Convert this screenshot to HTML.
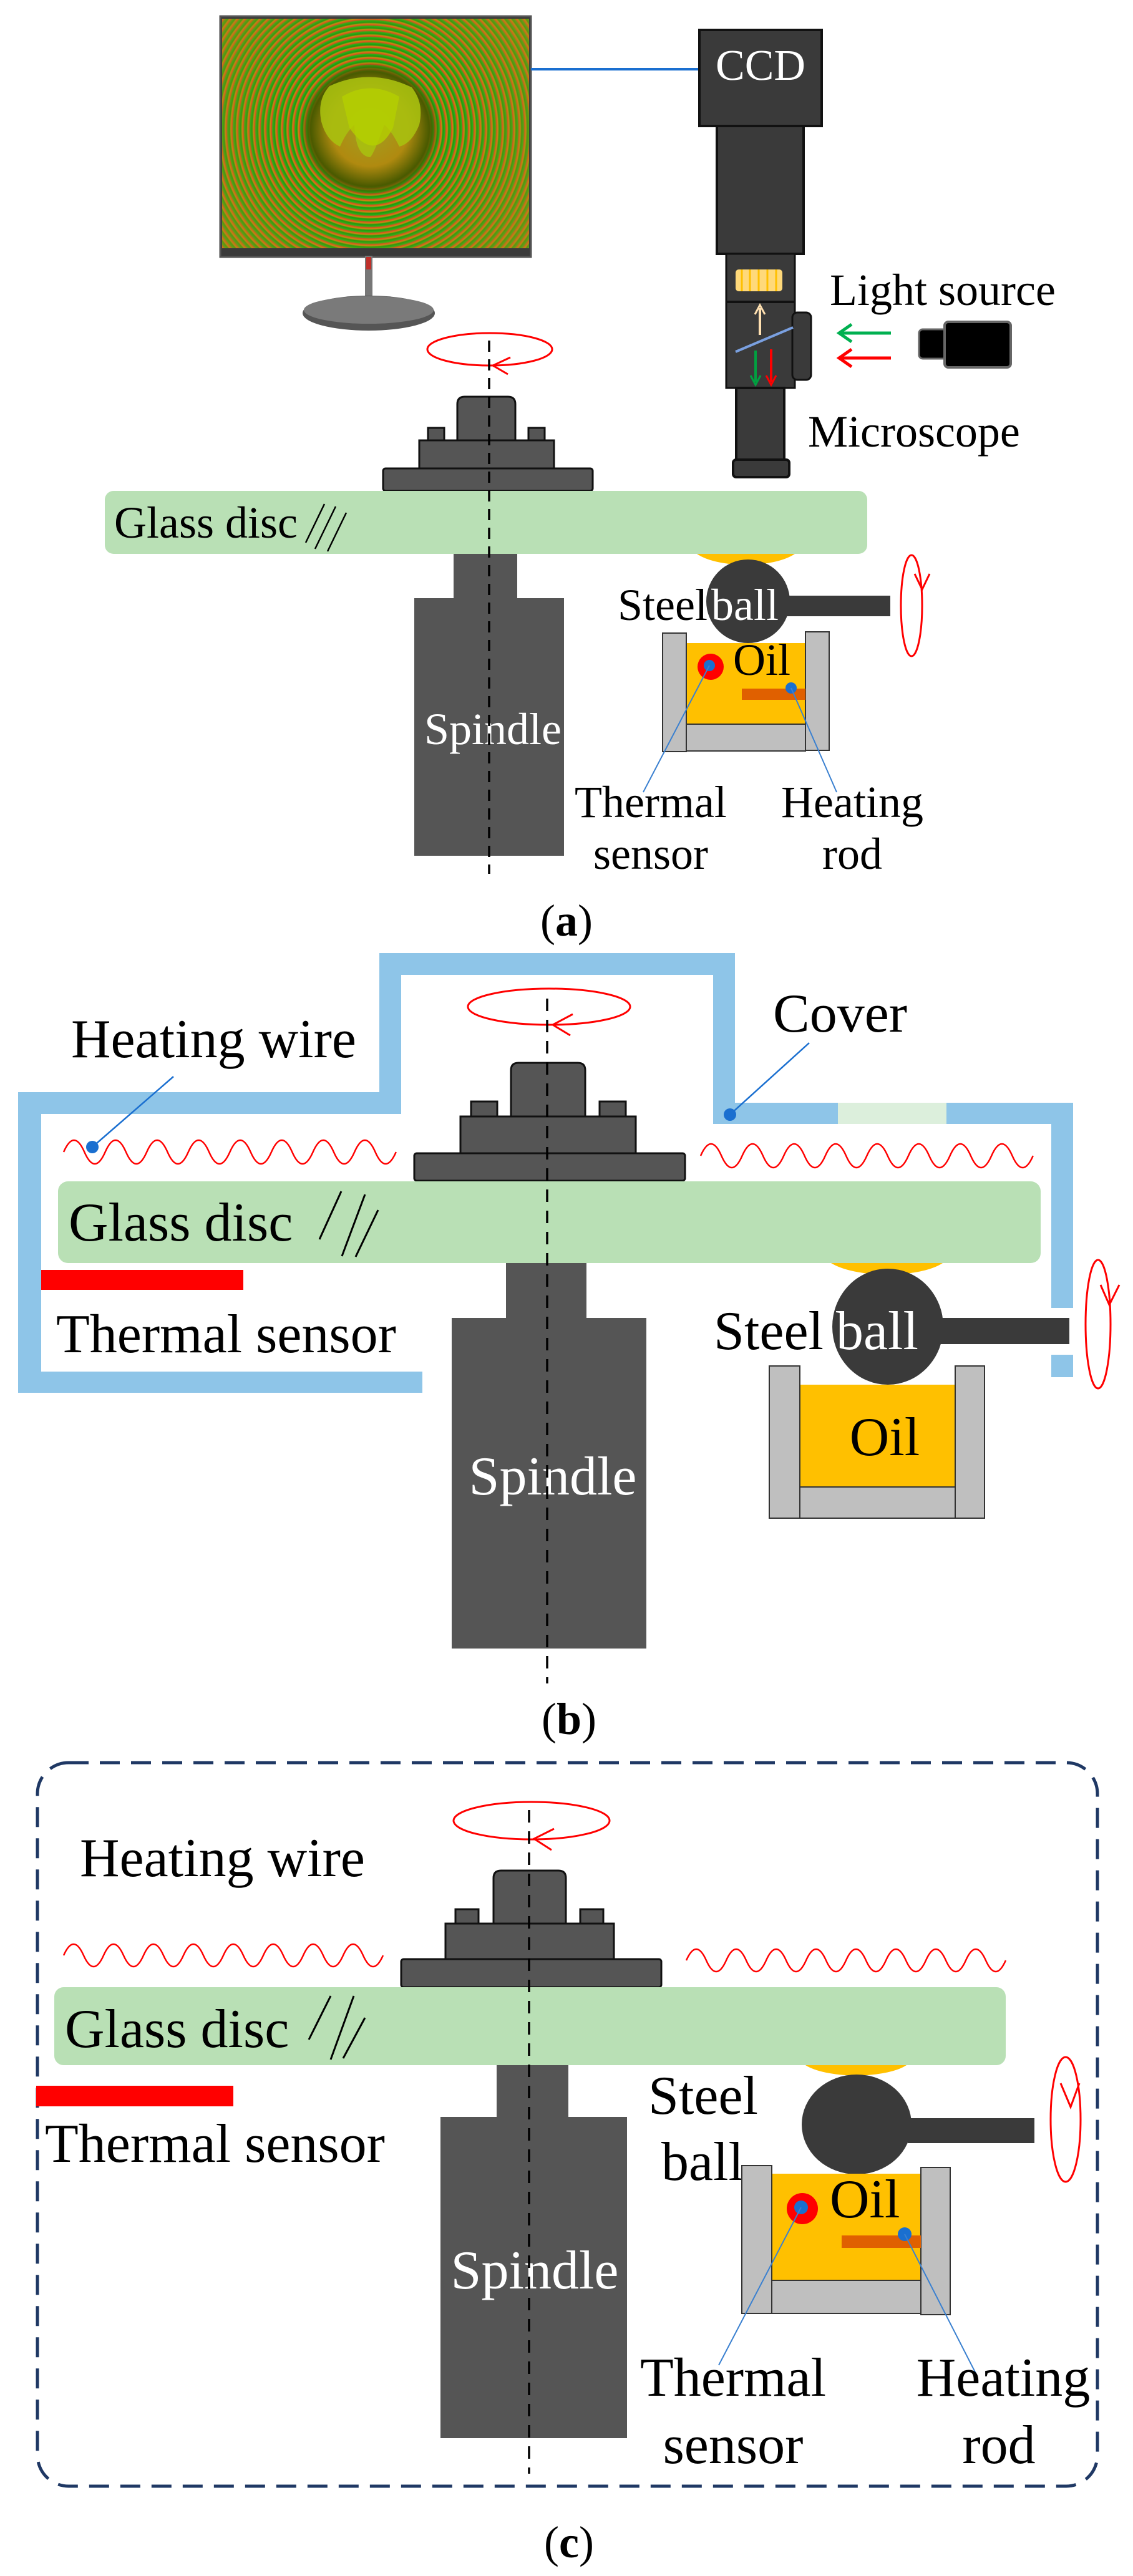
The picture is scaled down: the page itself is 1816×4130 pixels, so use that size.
<!DOCTYPE html>
<html><head><meta charset="utf-8"><style>
html,body{margin:0;padding:0;background:#fff;}
#wrap{position:relative;width:1816px;height:4130px;overflow:hidden;}
#scr{position:absolute;left:356px;top:30px;width:492px;height:368px;
background:
radial-gradient(ellipse 112px 108px at 237px 177px,#a0a020 0%,#b08a10 55%,#4a5a00 85%,rgba(0,0,0,0) 100%),
repeating-radial-gradient(circle at 237px 177px,#1a9a10 0px,#2ab015 3px,#e04a20 5px,#c88a10 7px,#1a9a10 9px),
#9a9010;}
#scr:after{content:"";position:absolute;left:0;top:0;right:0;bottom:0;background:radial-gradient(circle at 237px 177px,rgba(0,0,0,0) 45%,rgba(170,140,20,0.45) 90%);}
svg{position:absolute;left:0;top:0;}
text{font-family:"Liberation Serif",serif;}
</style></head><body><div id="wrap">
<svg width="1816" height="4130" viewBox="0 0 1816 4130">
<!-- ========== PANEL A ========== -->
<rect x="353" y="26" width="498" height="386" fill="#3a3a3a" stroke="#555" stroke-width="3"/>
<rect x="585" y="410" width="12" height="80" fill="#777"/>
<rect x="587" y="412" width="8" height="20" fill="#c0302a"/>
<ellipse cx="591" cy="502" rx="106" ry="28" fill="#555"/>
<ellipse cx="591" cy="497" rx="104" ry="22" fill="#7a7a7a"/>
<line x1="851" y1="111" x2="1121" y2="111" stroke="#1a6fd0" stroke-width="4"/>
<rect x="1121" y="48" width="196" height="154" fill="#3a3a3a" stroke="#111" stroke-width="4"/>
<text x="1219" y="128" font-size="70" fill="#fff" text-anchor="middle">CCD</text>
<rect x="1149" y="202" width="139" height="205" fill="#3a3a3a" stroke="#111" stroke-width="4"/>
<rect x="1164" y="407" width="110" height="215" fill="#3a3a3a" stroke="#111" stroke-width="3"/>
<line x1="1164" y1="484" x2="1274" y2="484" stroke="#111" stroke-width="4"/>
<rect x="1179" y="432" width="75" height="35" rx="5" fill="#ffd97a"/>
<g stroke="#ffc000" stroke-width="3"><line x1="1189" y1="432" x2="1189" y2="467"/><line x1="1202" y1="432" x2="1202" y2="467"/><line x1="1216" y1="432" x2="1216" y2="467"/><line x1="1230" y1="432" x2="1230" y2="467"/><line x1="1244" y1="432" x2="1244" y2="467"/></g>
<rect x="1270" y="501" width="30" height="108" rx="8" fill="#3a3a3a" stroke="#111" stroke-width="3"/>
<line x1="1179" y1="564" x2="1271" y2="525" stroke="#7aa0e0" stroke-width="4"/>
<line x1="1218" y1="537" x2="1218" y2="494" stroke="#ffe0b0" stroke-width="4"/><path d="M1210,504 L1218,489 L1226,504" fill="none" stroke="#ffe0b0" stroke-width="3"/>
<line x1="1211" y1="562" x2="1211" y2="612" stroke="#00a040" stroke-width="4"/><path d="M1203,602 L1211,617 L1219,602" fill="none" stroke="#00a040" stroke-width="3"/>
<line x1="1236" y1="560" x2="1236" y2="612" stroke="#f00" stroke-width="4"/><path d="M1228,602 L1236,617 L1244,602" fill="none" stroke="#f00" stroke-width="3"/>
<rect x="1180" y="622" width="77" height="115" fill="#3a3a3a" stroke="#111" stroke-width="4"/>
<rect x="1175" y="737" width="90" height="28" rx="5" fill="#3a3a3a" stroke="#111" stroke-width="4"/>
<line x1="1348" y1="534" x2="1428" y2="534" stroke="#00b050" stroke-width="5"/><path d="M1365,520 L1345,534 L1365,548" fill="none" stroke="#00b050" stroke-width="5"/>
<line x1="1348" y1="574" x2="1428" y2="574" stroke="#f00" stroke-width="5"/><path d="M1365,560 L1345,574 L1365,588" fill="none" stroke="#f00" stroke-width="5"/>
<rect x="1473" y="528" width="44" height="47" rx="6" fill="#000" stroke="#666" stroke-width="3"/>
<rect x="1514" y="516" width="106" height="73" rx="6" fill="#000" stroke="#666" stroke-width="4"/>
<text x="1330" y="489" font-size="72">Light source</text>
<text x="1295" y="716" font-size="72">Microscope</text>
<ellipse cx="785" cy="560" rx="100" ry="26" fill="none" stroke="#f00" stroke-width="3"/>
<path d="M818,573 L790,586 L814,600" fill="none" stroke="#f00" stroke-width="3"/>
<path d="M733,712 L733,648 Q733,636 745,636 L814,636 Q826,636 826,648 L826,712Z" fill="#555" stroke="#111" stroke-width="3"/>
<rect x="686" y="686" width="26" height="22" fill="#555" stroke="#111" stroke-width="3"/>
<rect x="847" y="686" width="26" height="22" fill="#555" stroke="#111" stroke-width="3"/>
<rect x="672" y="706" width="216" height="46" fill="#555" stroke="#111" stroke-width="3"/>
<rect x="614" y="751" width="336" height="36" rx="4" fill="#555" stroke="#111" stroke-width="3"/>
<rect x="168" y="787" width="1222" height="101" rx="14" fill="#b9e0b5"/>
<text x="183" y="862" font-size="72">Glass disc</text>
<g stroke="#000" stroke-width="2.5"><line x1="520" y1="808" x2="490" y2="870"/><line x1="538" y1="812" x2="505" y2="880"/><line x1="555" y1="822" x2="525" y2="884"/></g>
<rect x="727" y="888" width="102" height="71" fill="#555"/>
<rect x="664" y="959" width="240" height="413" fill="#555"/>
<text x="790" y="1193" font-size="72" fill="#fff" text-anchor="middle">Spindle</text>
<line x1="784" y1="546" x2="784" y2="1401" stroke="#000" stroke-width="3.5" stroke-dasharray="18,12"/>
<path d="M1117,888 L1274,888 Q1250,904 1196,906 Q1140,904 1117,888Z" fill="#ffc000"/>
<rect x="1260" y="955" width="167" height="33" fill="#3a3a3a"/>
<ellipse cx="1199" cy="964" rx="67" ry="67" fill="#3a3a3a"/>
<text x="990" y="994" font-size="72">Steel</text>
<text x="1140" y="994" font-size="72" fill="#fff">ball</text>
<ellipse cx="1461" cy="971" rx="17" ry="81" fill="none" stroke="#f00" stroke-width="3"/>
<path d="M1466,920 L1478,945 L1490,920" fill="none" stroke="#f00" stroke-width="3"/>
<rect x="1100" y="1031" width="191" height="130" fill="#ffc000"/>
<rect x="1100" y="1161" width="191" height="43" fill="#bfbfbf" stroke="#333" stroke-width="2"/>
<rect x="1062" y="1015" width="38" height="190" fill="#bfbfbf" stroke="#333" stroke-width="2"/>
<rect x="1291" y="1013" width="38" height="190" fill="#bfbfbf" stroke="#333" stroke-width="2"/>
<text x="1175" y="1082" font-size="72">Oil</text>
<circle cx="1139" cy="1069" r="21" fill="#f00"/><circle cx="1137" cy="1067" r="9" fill="#1a6fd0"/>
<rect x="1189" y="1104" width="102" height="18" fill="#e06000"/>
<circle cx="1268" cy="1103" r="9" fill="#1a6fd0"/>
<line x1="1137" y1="1067" x2="1031" y2="1270" stroke="#3a80d0" stroke-width="2"/>
<line x1="1268" y1="1103" x2="1341" y2="1270" stroke="#3a80d0" stroke-width="2"/>
<text x="1043" y="1310" font-size="72" text-anchor="middle">Thermal</text>
<text x="1043" y="1393" font-size="72" text-anchor="middle">sensor</text>
<text x="1366" y="1310" font-size="72" text-anchor="middle">Heating</text>
<text x="1366" y="1393" font-size="72" text-anchor="middle">rod</text>
<text x="908" y="1500" font-size="72" text-anchor="middle">(<tspan font-weight="bold">a</tspan>)</text>

<!-- ========== PANEL B ========== -->
<g fill="#8ec5e8">
<rect x="29" y="2199" width="648" height="34"/>
<rect x="29" y="1751" width="37" height="482"/>
<rect x="29" y="1751" width="614" height="35"/>
<rect x="608" y="1528" width="35" height="258"/>
<rect x="608" y="1528" width="570" height="35"/>
<rect x="1143" y="1528" width="35" height="274"/>
<rect x="1143" y="1768" width="577" height="34"/>
<rect x="1685" y="1768" width="35" height="329"/>
<rect x="1685" y="2172" width="35" height="36"/>
</g>
<rect x="1343" y="1768" width="174" height="34" fill="#dcefdc"/>
<text x="1239" y="1654" font-size="88">Cover</text>
<line x1="1297" y1="1672" x2="1170" y2="1787" stroke="#1a6fd0" stroke-width="2.5"/><circle cx="1170" cy="1787" r="10" fill="#1a6fd0"/>
<text x="114" y="1695" font-size="88">Heating wire</text>
<line x1="278" y1="1726" x2="148" y2="1839" stroke="#1a6fd0" stroke-width="2.5"/><circle cx="148" cy="1839" r="10" fill="#1a6fd0"/>
<path d="M102,1847 q16.7,-38 33.3,0 t33.3,0 t33.3,0 t33.3,0 t33.3,0 t33.3,0 t33.3,0 t33.3,0 t33.3,0 t33.3,0 t33.3,0 t33.3,0 t33.3,0 t33.3,0 t33.3,0 t33.3,0" fill="none" stroke="#f00" stroke-width="2.5"/>
<path d="M1123,1853 q16.7,-38 33.3,0 t33.3,0 t33.3,0 t33.3,0 t33.3,0 t33.3,0 t33.3,0 t33.3,0 t33.3,0 t33.3,0 t33.3,0 t33.3,0 t33.3,0 t33.3,0 t33.3,0 t33.3,0" fill="none" stroke="#f00" stroke-width="2.5"/>
<ellipse cx="880" cy="1614" rx="130" ry="29" fill="none" stroke="#f00" stroke-width="3"/>
<path d="M918,1626 L886,1643 L914,1660" fill="none" stroke="#f00" stroke-width="3"/>
<path d="M819,1794 L819,1716 Q819,1704 831,1704 L926,1704 Q938,1704 938,1716 L938,1794Z" fill="#555" stroke="#111" stroke-width="3"/>
<rect x="755" y="1766" width="42" height="26" fill="#555" stroke="#111" stroke-width="3"/>
<rect x="961" y="1766" width="42" height="26" fill="#555" stroke="#111" stroke-width="3"/>
<rect x="738" y="1790" width="281" height="59" fill="#555" stroke="#111" stroke-width="3"/>
<rect x="664" y="1849" width="434" height="44" rx="4" fill="#555" stroke="#111" stroke-width="3"/>
<rect x="93" y="1894" width="1575" height="131" rx="16" fill="#b9e0b5"/>
<text x="110" y="1989" font-size="88">Glass disc</text>
<g stroke="#000" stroke-width="3"><line x1="547" y1="1910" x2="512" y2="1987"/><line x1="585" y1="1915" x2="548" y2="2014"/><line x1="606" y1="1940" x2="570" y2="2015"/></g>
<rect x="66" y="2036" width="324" height="32" fill="#f00"/>
<text x="90" y="2168" font-size="88">Thermal sensor</text>
<rect x="811" y="2025" width="129" height="88" fill="#555"/>
<rect x="724" y="2113" width="312" height="530" fill="#555"/>
<text x="886" y="2396" font-size="88" fill="#fff" text-anchor="middle">Spindle</text>
<line x1="877" y1="1601" x2="877" y2="2699" stroke="#000" stroke-width="3.5" stroke-dasharray="20,14"/>
<path d="M1332,2025 L1511,2025 Q1485,2042 1422,2044 Q1360,2042 1332,2025Z" fill="#ffc000"/>
<rect x="1500" y="2113" width="214" height="42" fill="#3a3a3a"/>
<ellipse cx="1423" cy="2127" rx="89" ry="93" fill="#3a3a3a"/>
<text x="1144" y="2163" font-size="88">Steel</text>
<text x="1340" y="2163" font-size="88" fill="#fff">ball</text>
<ellipse cx="1760" cy="2123" rx="20" ry="103" fill="none" stroke="#f00" stroke-width="3"/>
<path d="M1764,2060 L1778,2092 L1794,2060" fill="none" stroke="#f00" stroke-width="3"/>
<rect x="1282" y="2220" width="249" height="164" fill="#ffc000"/>
<rect x="1282" y="2384" width="249" height="50" fill="#bfbfbf" stroke="#333" stroke-width="2"/>
<rect x="1233" y="2190" width="49" height="244" fill="#bfbfbf" stroke="#333" stroke-width="2"/>
<rect x="1531" y="2190" width="47" height="244" fill="#bfbfbf" stroke="#333" stroke-width="2"/>
<text x="1418" y="2333" font-size="88" text-anchor="middle">Oil</text>
<text x="912" y="2780" font-size="72" text-anchor="middle">(<tspan font-weight="bold">b</tspan>)</text>

<!-- ========== PANEL C ========== -->
<rect x="60" y="2826" width="1699" height="1160" rx="50" fill="none" stroke="#1f3864" stroke-width="5" stroke-dasharray="32,18"/>
<ellipse cx="852" cy="2919" rx="125" ry="30" fill="none" stroke="#f00" stroke-width="3"/>
<path d="M888,2932 L856,2948 L884,2966" fill="none" stroke="#f00" stroke-width="3"/>
<text x="128" y="3008" font-size="88">Heating wire</text>
<path d="M791,3087 L791,3011 Q791,2999 803,2999 L895,2999 Q907,2999 907,3011 L907,3087Z" fill="#555" stroke="#111" stroke-width="3"/>
<rect x="730" y="3061" width="37" height="25" fill="#555" stroke="#111" stroke-width="3"/>
<rect x="930" y="3061" width="37" height="25" fill="#555" stroke="#111" stroke-width="3"/>
<rect x="714" y="3084" width="270" height="57" fill="#555" stroke="#111" stroke-width="3"/>
<rect x="643" y="3141" width="417" height="45" rx="4" fill="#555" stroke="#111" stroke-width="3"/>
<path d="M102,3135 q16,-36 32,0 t32,0 t32,0 t32,0 t32,0 t32,0 t32,0 t32,0 t32,0 t32,0 t32,0 t32,0 t32,0 t32,0 t32,0 t32,0" fill="none" stroke="#f00" stroke-width="2.5"/>
<path d="M1100,3143 q16,-36 32,0 t32,0 t32,0 t32,0 t32,0 t32,0 t32,0 t32,0 t32,0 t32,0 t32,0 t32,0 t32,0 t32,0 t32,0 t32,0" fill="none" stroke="#f00" stroke-width="2.5"/>
<rect x="87" y="3186" width="1525" height="125" rx="15" fill="#b9e0b5"/>
<text x="104" y="3282" font-size="88">Glass disc</text>
<g stroke="#000" stroke-width="3"><line x1="530" y1="3200" x2="495" y2="3270"/><line x1="567" y1="3200" x2="530" y2="3302"/><line x1="585" y1="3235" x2="550" y2="3300"/></g>
<rect x="58" y="3344" width="316" height="33" fill="#f00"/>
<text x="72" y="3466" font-size="88">Thermal sensor</text>
<rect x="796" y="3311" width="115" height="83" fill="#555"/>
<rect x="706" y="3394" width="299" height="515" fill="#555"/>
<text x="857" y="3669" font-size="88" fill="#fff" text-anchor="middle">Spindle</text>
<line x1="848" y1="2902" x2="848" y2="3966" stroke="#000" stroke-width="3.5" stroke-dasharray="20,14"/>
<text x="1039" y="3389" font-size="88">Steel</text>
<text x="1060" y="3495" font-size="88">ball</text>
<path d="M1291,3311 L1453,3311 Q1430,3326 1372,3328 Q1315,3326 1291,3311Z" fill="#ffc000"/>
<rect x="1455" y="3396" width="203" height="40" fill="#3a3a3a"/>
<ellipse cx="1373" cy="3406" rx="88" ry="80" fill="#3a3a3a"/>
<ellipse cx="1708" cy="3398" rx="24" ry="100" fill="none" stroke="#f00" stroke-width="3"/>
<path d="M1700,3340 L1716,3378 L1730,3340" fill="none" stroke="#f00" stroke-width="3"/>
<rect x="1237" y="3485" width="239" height="171" fill="#ffc000"/>
<rect x="1237" y="3656" width="239" height="53" fill="#bfbfbf" stroke="#333" stroke-width="2"/>
<rect x="1189" y="3472" width="48" height="237" fill="#bfbfbf" stroke="#333" stroke-width="2"/>
<rect x="1476" y="3475" width="47" height="236" fill="#bfbfbf" stroke="#333" stroke-width="2"/>
<text x="1330" y="3555" font-size="88">Oil</text>
<circle cx="1286" cy="3541" r="25" fill="#f00"/><circle cx="1284" cy="3539" r="11" fill="#1a6fd0"/>
<rect x="1349" y="3584" width="127" height="20" fill="#e06000"/>
<circle cx="1450" cy="3582" r="11" fill="#1a6fd0"/>
<line x1="1284" y1="3539" x2="1152" y2="3792" stroke="#3a80d0" stroke-width="2"/>
<line x1="1450" y1="3582" x2="1566" y2="3809" stroke="#3a80d0" stroke-width="2"/>
<text x="1175" y="3841" font-size="88" text-anchor="middle">Thermal</text>
<text x="1175" y="3949" font-size="88" text-anchor="middle">sensor</text>
<text x="1608" y="3841" font-size="88" text-anchor="middle">Heating</text>
<text x="1601" y="3949" font-size="88" text-anchor="middle">rod</text>
<text x="912" y="4100" font-size="72" text-anchor="middle">(<tspan font-weight="bold">c</tspan>)</text>
</svg>
<div id="scr"></div>
<svg width="1816" height="500" viewBox="0 0 1816 500">
<path d="M528,138 Q593,108 660,140 Q680,165 672,200 Q660,230 640,235 Q628,210 616,200 Q598,250 593,252 Q570,250 568,200 Q555,212 545,235 Q523,225 515,195 Q508,160 528,138Z" fill="#a8c010" opacity="0.9"/>
<path d="M548,155 Q593,128 640,155 L630,205 Q600,262 560,205Z" fill="#b4d000" opacity="0.8"/>
</svg>
</div></body></html>
